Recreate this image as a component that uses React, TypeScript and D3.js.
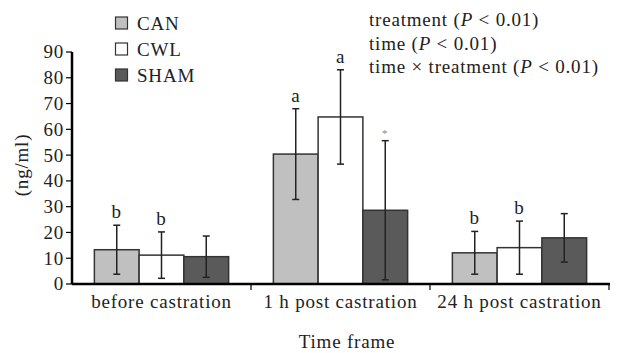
import React, { useRef, useEffect } from 'react';
import * as d3 from 'd3';

const categories = ['before castration', '1 h post castration', '24 h post castration'];
const groups = ['CAN', 'CWL', 'SHAM'];
const colors = ['#c0c0c0', '#ffffff', '#5a5a5a'];
const canMean = [13.3, 50.4, 12.1];
const canErr = [9.5, 17.6, 8.3];
const cwlMean = [11.2, 64.8, 14.1];
const cwlErr = [9.0, 18.3, 10.3];
const shamMean = [10.6, 28.6, 17.9];
const shamErr = [8.0, 27.0, 9.4];
const canLabel = ['b', 'a', 'b'];
const cwlLabel = ['b', 'a', 'b'];
const shamLabel = ['', '*', ''];
const yTicks = [0, 10, 20, 30, 40, 50, 60, 70, 80, 90];
const notes = ['treatment', 'time', 'time × treatment'];

function App() {
  const ref = useRef<SVGSVGElement>(null);

  useEffect(() => {
    const svg = d3.select(ref.current);
    svg.selectAll('*').remove();

    const font = '"Liberation Serif", "DejaVu Serif", serif';
    const txt = (sel: any, size = 19) =>
      sel.style('font-family', font).style('font-size', size + 'px')
        .style('letter-spacing', '0.8px').style('fill', '#222');

    const x0 = d3.scaleBand().domain(categories).range([72, 609]).paddingInner(0).paddingOuter(0);
    const x1 = d3.scaleBand().domain(groups).range([0, x0.bandwidth()]).paddingOuter(0.5);
    const y = d3.scaleLinear().domain([0, 90]).range([284, 52]);

    const series = [
      { means: canMean, errs: canErr, labels: canLabel },
      { means: cwlMean, errs: cwlErr, labels: cwlLabel },
      { means: shamMean, errs: shamErr, labels: shamLabel },
    ];

    const g = svg.append('g');

    series.forEach((s, si) => {
      categories.forEach((c, ci) => {
        const bx = x0(c)! + x1(groups[si])!;
        const w = x1.bandwidth();
        const m = s.means[ci];
        const e = s.errs[ci];
        g.append('rect')
          .attr('x', bx).attr('y', y(m))
          .attr('width', w).attr('height', y(0) - y(m))
          .attr('fill', colors[si]).attr('stroke', '#333').attr('stroke-width', 1.5);
        const cx = bx + w / 2;
        g.append('line').attr('x1', cx).attr('x2', cx)
          .attr('y1', y(m + e)).attr('y2', y(Math.max(0, m - e)))
          .attr('stroke', '#222').attr('stroke-width', 1.5);
        [m + e, Math.max(0, m - e)].forEach(v => {
          g.append('line').attr('x1', cx - 3.5).attr('x2', cx + 3.5)
            .attr('y1', y(v)).attr('y2', y(v))
            .attr('stroke', '#222').attr('stroke-width', 1.5);
        });
        if (s.labels[ci]) {
          const star = s.labels[ci] === '*';
          const t = g.append('text')
            .attr('x', cx).attr('y', y(m + e) - (star ? 4 : 7))
            .attr('text-anchor', 'middle')
            .text(s.labels[ci]);
          txt(t, star ? 11 : 19);
          if (star) t.style('fill', '#888');
        }
      });
    });

    // y axis
    svg.append('line').attr('x1', 72).attr('x2', 72).attr('y1', y(90)).attr('y2', y(0))
      .attr('stroke', '#000').attr('stroke-width', 2.5);
    yTicks.forEach(t => {
      svg.append('line').attr('x1', 66).attr('x2', 72).attr('y1', y(t)).attr('y2', y(t))
        .attr('stroke', '#000').attr('stroke-width', 1.2);
      txt(svg.append('text').attr('x', 64).attr('y', y(t)).attr('dy', '0.34em')
        .attr('text-anchor', 'end').text(t));
    });

    // x axis
    svg.append('line').attr('x1', 72).attr('x2', 610).attr('y1', y(0)).attr('y2', y(0))
      .attr('stroke', '#000').attr('stroke-width', 2.5);
    categories.forEach(c => {
      const right = x0(c)! + x0.bandwidth();
      svg.append('line').attr('x1', right).attr('x2', right).attr('y1', y(0)).attr('y2', y(0) + 6)
        .attr('stroke', '#000').attr('stroke-width', 1.2);
      txt(svg.append('text').attr('x', x0(c)! + x0.bandwidth() / 2).attr('y', 308)
        .attr('text-anchor', 'middle').text(c));
    });

    txt(svg.append('text').attr('x', 347).attr('y', 348).attr('text-anchor', 'middle')
      .text('Time frame'));

    txt(svg.append('text').attr('transform', 'translate(28,165) rotate(-90)')
      .attr('text-anchor', 'middle').text('(ng/ml)'));

    // legend
    groups.forEach((gname, i) => {
      const ly = 23 + i * 26;
      svg.append('rect').attr('x', 115.5).attr('y', ly - 6).attr('width', 12).attr('height', 12)
        .attr('fill', colors[i]).attr('stroke', '#333').attr('stroke-width', 1.2);
      txt(svg.append('text').attr('x', 137).attr('y', ly).attr('dy', '0.35em').text(gname));
    });

    // stats notes
    notes.forEach((n, i) => {
      const t = txt(svg.append('text').attr('x', 369).attr('y', 26 + i * 23.5));
      t.append('tspan').text(n + ' (');
      t.append('tspan').style('font-style', 'italic').text('P');
      t.append('tspan').text(' < 0.01)');
    });
  }, []);

  return (
    <svg ref={ref} width={617} height={353}
      style={{ position: 'absolute', left: 0, top: 0, background: '#fff' }} />
  );
}

export default App;
